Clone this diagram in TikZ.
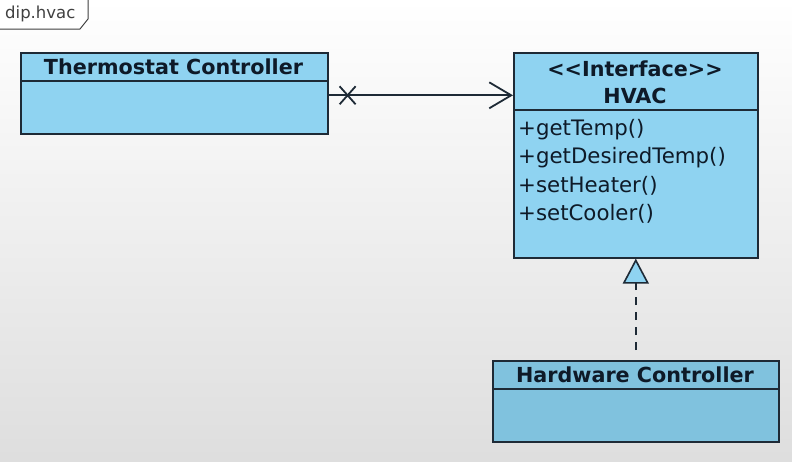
\documentclass[tikz,border=0pt]{standalone}
\usepackage{fontspec}
\setmainfont{DejaVu Sans}
\usetikzlibrary{arrows.meta}
\definecolor{boxblue}{HTML}{8FD3F1}
\definecolor{boxblue2}{HTML}{80C2DE}
\definecolor{inkc}{HTML}{0E1A28}
\definecolor{linec}{HTML}{1E2A36}
\tikzset{
  classbox/.style={draw=linec, line width=1.6pt, fill=boxblue, anchor=north west, inner sep=0pt},
  classtitle/.style={font=\bfseries\fontsize{20.7}{24}\selectfont, text=inkc, inner sep=0pt},
  method/.style={font=\fontsize{21.3}{24}\selectfont, text=inkc, anchor=west, inner sep=0pt},
}
\begin{document}
\begin{tikzpicture}[x=1pt,y=-1pt]
\shade[top color=white, bottom color=black!13] (0,0) rectangle (792,461);
\useasboundingbox (0,0) rectangle (792,461);
% tab
\draw[black!75, line width=1pt, fill=white] (-2,-2) -- (88,-2) -- (88,19) -- (80,29) -- (-2,29);
\node[font=\fontsize{16.5}{19}\selectfont, text=black!75, anchor=west, inner sep=0pt] (tab) at (5,14) {dip.hvac};
% Thermostat Controller
\node[classbox, minimum width=307pt, minimum height=81pt] (tc) at (20,52) {};
\draw[linec, line width=1.6pt] (20,81) -- (327,81);
\node[classtitle] (tct) at (173.5,67) {Thermostat Controller};
% HVAC
\node[classbox, minimum width=244pt, minimum height=205pt] (hvac) at (513,52) {};
\draw[linec, line width=1.6pt] (513,110) -- (757,110);
\node[classtitle] (hvt1) at (635,69) {{<}{<}Interface{>}{>}};
\node[classtitle] (hvt2) at (635,96) {HVAC};
\node[method] (m1) at (518,130) {+getTemp()};
\node[method] (m2) at (518,158) {+getDesiredTemp()};
\node[method] (m3) at (518,186) {+setHeater()};
\node[method] (m4) at (518,214) {+setCooler()};
% Hardware Controller
\node[classbox, fill=boxblue2, minimum width=286pt, minimum height=81pt] (hw) at (492,360) {};
\draw[linec, line width=1.6pt] (492,389) -- (778,389);
\node[classtitle] (hwt) at (635,375) {Hardware Controller};
% association
\coordinate (a0) at ([yshift=-2pt]tc.east);
\draw[linec, line width=1.8pt, -{Straight Barb[length=22pt,width=26pt,line width=1.8pt]}] (a0) -- (a0 -| hvac.west);
\draw[linec, line width=1.8pt] ([xshift=19pt]a0) +(-8,-9) -- +(8,9) ([xshift=19pt]a0) +(-8,9) -- +(8,-9);
% realization
\draw[linec, line width=1.8pt, dash pattern=on 8pt off 7pt, shorten <=10pt,
  -{Triangle[open, fill=boxblue, length=25pt, width=26pt, line width=1.6pt]}] (hw.north) -- (hvac.south);
\end{tikzpicture}
\end{document}
